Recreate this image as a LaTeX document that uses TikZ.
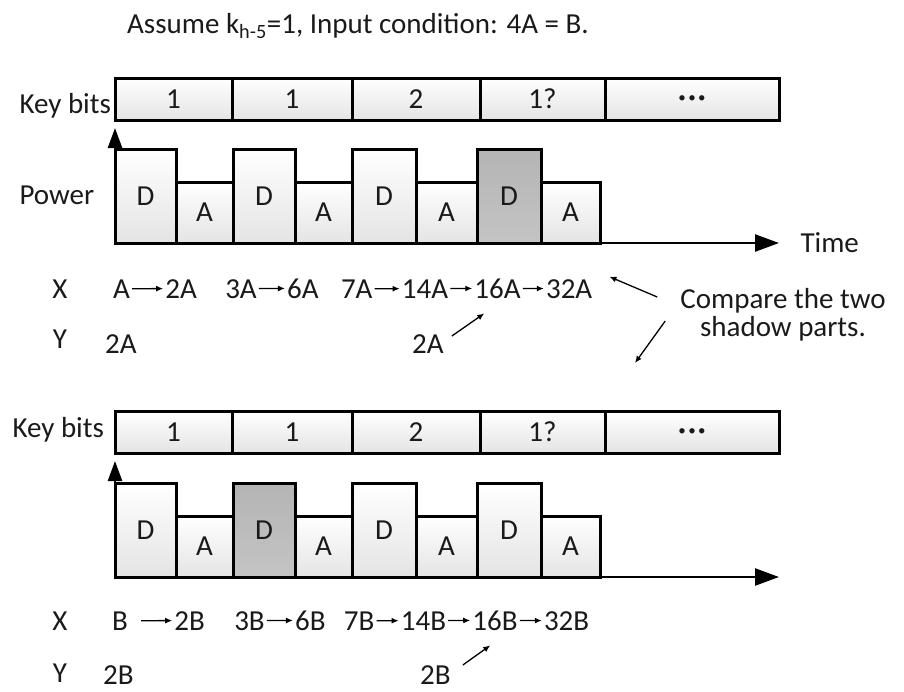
\documentclass[tikz,border=0pt]{standalone}
\usepackage{fontspec}
\setmainfont{Carlito}
\usetikzlibrary{arrows.meta, positioning, calc}
\definecolor{InkBlack}{HTML}{1A1A1A}
\definecolor{CellGray}{HTML}{E4E4E4}
\definecolor{ShadowTop}{HTML}{B4B4B4}
\definecolor{ShadowBottom}{HTML}{C4C4C4}
\newcommand{\keydots}{{\fontsize{15}{15}\selectfont\textbullet\,\textbullet\,\textbullet}}

\begin{document}
\begin{tikzpicture}[x=1pt, y=-1pt, node distance=28pt,
    every node/.style={font=\fontsize{29}{28}\selectfont, text=InkBlack},
    keycell/.style={draw=black, line width=3pt, top color=white, bottom color=CellGray, inner sep=0pt, outer sep=0pt, minimum height=42pt},
    powerbar/.style={draw=black, line width=3pt, top color=white, bottom color=CellGray, inner sep=0pt, outer sep=0pt, anchor=south west},
    dbar/.style={powerbar, minimum height=94pt},
    abar/.style={powerbar, minimum height=61pt},
    shadowbar/.style={top color=ShadowTop, bottom color=ShadowBottom},
    term/.style={inner sep=2pt},
    xarrow/.style={-{Latex[length=7pt, width=6pt]}, line width=1.3pt},
    axis/.style={line width=2.5pt}]
    \useasboundingbox (0,0) rectangle (904,691);

    \node[anchor=base] (title) at (358,33) {Assume k\textsubscript{h-5}=1, Input condition: 4A = B.};

    % upper trace
    \node[anchor=base west] (keylabA) at (16,113) {Key bits};
    \node[keycell, minimum width=117pt, anchor=north west] (ka1) at (115,78) {1};
    \node[keycell, minimum width=120pt, right=0pt of ka1] (ka2) {1};
    \node[keycell, minimum width=128pt, right=0pt of ka2] (ka3) {2};
    \node[keycell, minimum width=125pt, right=0pt of ka3] (ka4) {1?};
    \node[keycell, minimum width=174pt, right=0pt of ka4] (ka5) {\keydots};

    \node[anchor=base west] (powlab) at (16,204) {Power};
    \node[dbar, minimum width=61pt] (pa1) at (115,243) {D};
    \node[abar, minimum width=57pt] (pa2) at (pa1.south east) {A};
    \node[dbar, minimum width=62pt] (pa3) at (pa2.south east) {D};
    \node[abar, minimum width=57pt] (pa4) at (pa3.south east) {A};
    \node[dbar, minimum width=64pt] (pa5) at (pa4.south east) {D};
    \node[abar, minimum width=61pt] (pa6) at (pa5.south east) {A};
    \node[dbar, shadowbar, minimum width=64pt] (pa7) at (pa6.south east) {D};
    \node[abar, minimum width=59pt] (pa8) at (pa7.south east) {A};
    \coordinate (ptopA) at (115,128);
    \coordinate (tendA) at (779,243);
    \draw[axis, -{Triangle[length=20pt, width=14pt]}] (pa1.south west) -- (ptopA);
    \draw[axis, -{Triangle[length=24pt, width=17pt]}] (pa8.south east) -- (tendA);
    \node[anchor=base west] (timelab) at (797,252) {Time};

    % X / Y values, upper
    \node[anchor=base] (xlabA) at (60,298) {X};
    \node[anchor=base] (ylabA) at (60,348) {Y};
    \node[term, anchor=base west] (xa1) at (111,298) {A};
    \node[term, base right=31pt of xa1] (xa2) {2A};
    \node[term, base right=24pt of xa2] (xa3) {3A};
    \node[term, base right=26pt of xa3] (xa4) {6A};
    \node[term, base right=18pt of xa4] (xa5) {7A};
    \node[term, base right=25pt of xa5] (xa6) {14A};
    \node[term, base right=22pt of xa6] (xa7) {16A};
    \node[term, base right=21pt of xa7] (xa8) {32A};
    \draw[xarrow] (xa1) -- (xa2);
    \draw[xarrow] (xa3) -- (xa4);
    \draw[xarrow] (xa5) -- (xa6);
    \draw[xarrow] (xa6) -- (xa7);
    \draw[xarrow] (xa7) -- (xa8);
    \node[term, anchor=base west] (ya1) at (103,353) {2A};
    \node[term, anchor=base west] (ya2) at (410,353) {2A};
    \draw[xarrow] ([shift={(6,4)}]ya2.north east) -- ([shift={(12,13)}]xa7.south west);

    \node[align=center, inner sep=0pt] (cmp) at (783,315) {Compare the two\\shadow parts.};
    \coordinate (cmpdown) at (635,363);
    \draw[xarrow] ([shift={(-23,-18)}]cmp.west) -- ([shift={(15,-12)}]xa8.east);
    \draw[xarrow] ([shift={(-15,6)}]cmp.west) -- (cmpdown);

    % lower trace
    \node[anchor=base west] (keylabB) at (9,437) {Key bits};
    \node[keycell, minimum width=117pt, anchor=north west] (kb1) at (115,411) {1};
    \node[keycell, minimum width=120pt, right=0pt of kb1] (kb2) {1};
    \node[keycell, minimum width=128pt, right=0pt of kb2] (kb3) {2};
    \node[keycell, minimum width=125pt, right=0pt of kb3] (kb4) {1?};
    \node[keycell, minimum width=174pt, right=0pt of kb4] (kb5) {\keydots};

    \node[dbar, minimum width=61pt] (pb1) at (115,577) {D};
    \node[abar, minimum width=57pt] (pb2) at (pb1.south east) {A};
    \node[dbar, shadowbar, minimum width=62pt] (pb3) at (pb2.south east) {D};
    \node[abar, minimum width=57pt] (pb4) at (pb3.south east) {A};
    \node[dbar, minimum width=64pt] (pb5) at (pb4.south east) {D};
    \node[abar, minimum width=61pt] (pb6) at (pb5.south east) {A};
    \node[dbar, minimum width=64pt] (pb7) at (pb6.south east) {D};
    \node[abar, minimum width=59pt] (pb8) at (pb7.south east) {A};
    \coordinate (ptopB) at (115,461);
    \coordinate (tendB) at (779,577);
    \draw[axis, -{Triangle[length=20pt, width=14pt]}] (pb1.south west) -- (ptopB);
    \draw[axis, -{Triangle[length=24pt, width=17pt]}] (pb8.south east) -- (tendB);

    % X / Y values, lower
    \node[anchor=base] (xlabB) at (60,630) {X};
    \node[anchor=base] (ylabB) at (60,682) {Y};
    \node[term, anchor=base west] (xb1) at (110,630) {B};
    \node[term, base right=42pt of xb1] (xb2) {2B};
    \node[term, base right=25pt of xb2] (xb3) {3B};
    \node[term, base right=26pt of xb3] (xb4) {6B};
    \node[term, base right=14pt of xb4] (xb5) {7B};
    \node[term, base right=22pt of xb5] (xb6) {14B};
    \node[term, base right=22pt of xb6] (xb7) {16B};
    \node[term, base right=22pt of xb7] (xb8) {32B};
    \draw[xarrow, shorten <=11pt] (xb1) -- (xb2);
    \draw[xarrow] (xb3) -- (xb4);
    \draw[xarrow] (xb5) -- (xb6);
    \draw[xarrow] (xb6) -- (xb7);
    \draw[xarrow] (xb7) -- (xb8);
    \node[term, anchor=base west] (yb1) at (101,684) {2B};
    \node[term, anchor=base west] (yb2) at (418,684) {2B};
    \draw[xarrow] ([shift={(10,2)}]yb2.north east) -- ([shift={(20,13)}]xb7.south west);
\end{tikzpicture}
\end{document}
